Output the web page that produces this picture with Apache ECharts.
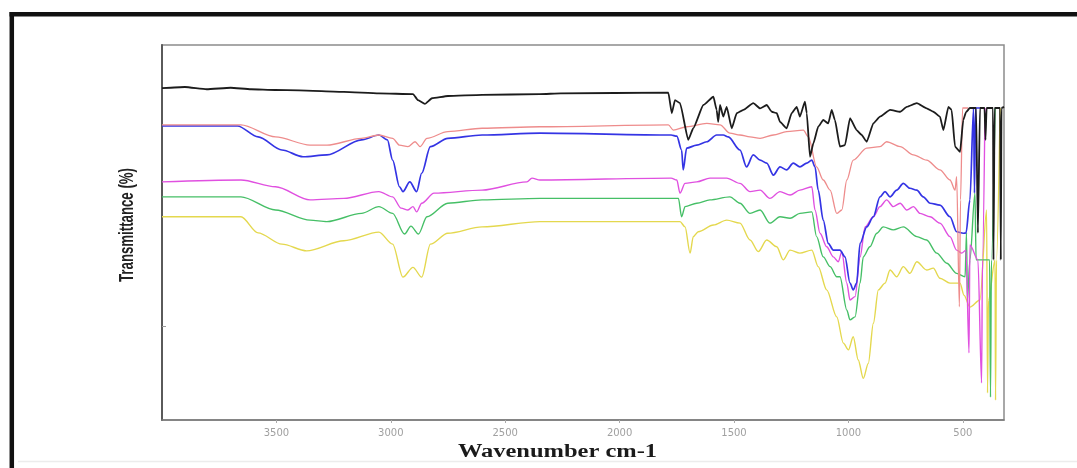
<!DOCTYPE html>
<html>
<head>
<meta charset="utf-8">
<script src="https://cdn.jsdelivr.net/npm/echarts@6/dist/echarts.min.js"></script>
<style>
  html, body { margin: 0; padding: 0; background: #ffffff; }
  #chart { width: 1077px; height: 468px; }
</style>
</head>
<body>
<div id="chart"></div>
<script>
// FTIR spectra: [wavenumber (cm-1), transmittance (%)]
const xTicks = [500, 1000, 1500, 2000, 2500, 3000, 3500];
const yTicks = [25];

const blackSpectrum = [
  [4000, 88.5], [3900, 88.8], [3805, 88.2], [3700, 88.6], [3611, 88.2], [3506, 88.0], [3400, 87.9],
  [3205, 87.5], [3052, 87.1], [2903, 86.9], [2881, 85.3], [2851, 84.3], [2820, 85.8],
  [2750, 86.4], [2601, 86.7], [2348, 86.9], [2257, 87.1], [1787, 87.3],
  [1772, 81.8], [1758, 85.3], [1736, 84.5], [1700, 74.7], [1678, 77.8], [1634, 84.0],
  [1590, 86.2], [1576, 82.7], [1569, 79.5], [1561, 84.0], [1547, 80.9], [1532, 83.5],
  [1510, 77.8], [1488, 81.8], [1459, 82.7], [1416, 84.5], [1386, 83.1], [1357, 84.0],
  [1335, 82.2], [1313, 81.8], [1299, 79.5], [1270, 77.8], [1248, 81.8], [1226, 83.5],
  [1212, 80.9], [1190, 84.9], [1182, 81.8], [1168, 70.2], [1153, 73.8], [1132, 78.2],
  [1110, 80.0], [1088, 79.1], [1073, 82.7], [1059, 80.0], [1037, 72.9], [1015, 73.3],
  [993, 80.5], [964, 77.3], [942, 76.0], [920, 74.2], [891, 79.1], [862, 80.9],
  [818, 82.7], [774, 82.2], [745, 83.5], [701, 84.5], [658, 83.1], [629, 82.2],
  [600, 80.9], [585, 77.3], [563, 83.5], [549, 82.7], [534, 72.9], [512, 71.5],
  [498, 80.0], [486, 82.1], [469, 83.2], [442, 83.2], [434, 49.9], [425, 83.2],
  [405, 83.2], [401, 74.7], [396, 83.2], [368, 83.2], [366, 42.7], [361, 83.2],
  [337, 83.2], [334, 42.7], [331, 83.2], [320, 83.5]
];

const redSpectrum = [
  [4000, 78.7], [3655, 78.7], [3504, 75.5], [3353, 73.3], [3279, 73.3], [3128, 75.1],
  [3052, 76.0], [2992, 75.1], [2962, 73.3], [2925, 72.9], [2894, 74.2], [2872, 72.9],
  [2842, 75.1], [2751, 76.9], [2601, 77.8], [2348, 78.2], [1787, 78.7], [1765, 77.3],
  [1707, 78.2], [1619, 79.1], [1561, 78.7], [1518, 76.5], [1474, 76.0], [1430, 75.5],
  [1386, 75.1], [1328, 76.0], [1270, 76.9], [1197, 77.3], [1175, 75.5], [1139, 67.5],
  [1110, 64.0], [1080, 61.3], [1051, 55.1], [1029, 56.0], [1007, 64.0], [979, 69.3],
  [920, 72.5], [862, 72.9], [833, 74.2], [774, 72.9], [716, 70.7], [658, 69.3],
  [600, 66.7], [556, 64.0], [534, 61.3], [527, 64.9], [515, 30.2], [510, 58.7],
  [501, 83.2], [477, 83.2]
];

const blueSpectrum = [
  [4000, 78.4], [3670, 78.4], [3580, 75.5], [3476, 72.0], [3384, 70.2], [3279, 70.7],
  [3128, 74.7], [3052, 76.0], [3015, 74.7], [2992, 69.3], [2962, 62.2], [2947, 60.9],
  [2917, 63.5], [2887, 60.9], [2865, 65.8], [2827, 72.9], [2751, 75.1], [2601, 76.0],
  [2348, 76.5], [1775, 76.0], [1750, 75.7], [1729, 72.0], [1722, 66.7], [1707, 72.5],
  [1663, 73.3], [1619, 74.2], [1576, 76.0], [1547, 76.0], [1525, 75.5], [1474, 72.0],
  [1445, 67.5], [1416, 70.7], [1386, 69.3], [1357, 68.5], [1328, 65.3], [1299, 67.5],
  [1270, 66.7], [1241, 68.5], [1212, 67.5], [1182, 68.5], [1160, 69.3], [1146, 67.5],
  [1132, 61.3], [1110, 53.3], [1088, 47.1], [1066, 45.3], [1037, 45.3], [1015, 43.5],
  [993, 36.5], [979, 34.7], [964, 36.5], [949, 47.1], [920, 51.5], [891, 54.2],
  [862, 59.5], [840, 60.9], [818, 59.5], [789, 61.3], [760, 63.1], [731, 61.8],
  [701, 61.3], [673, 59.5], [643, 57.8], [600, 57.3], [556, 54.2], [527, 50.2],
  [498, 49.8], [486, 49.9], [469, 58.7], [453, 83.2], [449, 60.5], [444, 83.2],
  [425, 83.2]
];

const magentaSpectrum = [
  [4000, 63.5], [3655, 64.0], [3504, 62.2], [3353, 58.7], [3205, 59.1], [3052, 60.9],
  [2992, 59.5], [2955, 56.5], [2925, 56.0], [2903, 56.9], [2887, 55.5], [2865, 57.8],
  [2811, 60.5], [2601, 61.3], [2405, 63.5], [2383, 64.5], [2348, 64.0], [1775, 64.5],
  [1750, 64.0], [1736, 60.5], [1714, 63.1], [1663, 63.5], [1605, 64.5], [1532, 64.5],
  [1474, 63.1], [1430, 60.9], [1386, 61.3], [1343, 59.1], [1299, 60.9], [1255, 60.0],
  [1212, 61.3], [1160, 62.2], [1146, 56.0], [1124, 49.8], [1095, 46.2], [1066, 43.5],
  [1044, 42.2], [1029, 44.9], [1007, 36.5], [993, 32.0], [971, 32.9], [949, 43.5],
  [927, 51.5], [891, 54.2], [862, 56.9], [833, 58.7], [804, 56.9], [774, 57.8],
  [745, 56.0], [716, 56.9], [687, 55.1], [643, 54.2], [600, 52.5], [556, 48.9],
  [527, 45.3], [505, 44.5], [486, 45.3], [473, 17.9], [469, 46.7], [434, 42.7],
  [418, 9.9], [414, 42.7], [403, 83.2]
];

const greenSpectrum = [
  [4000, 59.5], [3655, 59.5], [3504, 56.0], [3353, 53.3], [3279, 52.9], [3128, 55.1],
  [3052, 56.9], [2992, 55.1], [2940, 49.6], [2912, 51.7], [2879, 49.6], [2842, 54.2],
  [2751, 57.8], [2601, 58.7], [2348, 59.1], [1743, 59.1], [1729, 54.2], [1714, 56.9],
  [1663, 57.8], [1605, 58.7], [1518, 59.5], [1474, 57.8], [1430, 55.1], [1386, 56.0],
  [1343, 52.5], [1299, 54.2], [1255, 53.8], [1212, 55.1], [1160, 55.5], [1139, 48.9],
  [1110, 43.5], [1080, 40.9], [1051, 38.2], [1037, 38.2], [1007, 29.3], [993, 26.7],
  [971, 27.5], [949, 36.5], [935, 43.5], [906, 46.2], [876, 49.8], [848, 51.5],
  [804, 50.7], [760, 51.5], [701, 48.9], [658, 48.0], [614, 44.5], [570, 41.8],
  [527, 39.1], [490, 38.2], [484, 49.9], [480, 32.0], [469, 42.7], [447, 60.5],
  [442, 42.7], [383, 42.7], [379, 6.1], [375, 42.7], [359, 83.2]
];

const yellowSpectrum = [
  [4000, 54.2], [3655, 54.2], [3580, 49.9], [3476, 46.9], [3368, 45.1], [3205, 47.8],
  [3052, 50.1], [2992, 46.9], [2947, 38.1], [2903, 40.7], [2865, 38.1], [2827, 46.9],
  [2751, 49.8], [2601, 51.5], [2348, 52.9], [1736, 52.9], [1714, 51.5], [1692, 44.5],
  [1678, 48.9], [1656, 50.2], [1590, 52.0], [1532, 53.3], [1474, 52.5], [1430, 48.0],
  [1394, 44.9], [1357, 48.0], [1313, 46.2], [1285, 42.7], [1255, 45.3], [1212, 44.5],
  [1160, 45.3], [1132, 40.9], [1095, 34.7], [1051, 27.5], [1022, 20.5], [1000, 18.7],
  [979, 22.2], [957, 16.0], [935, 11.1], [913, 15.1], [891, 25.8], [869, 34.7],
  [840, 36.5], [818, 40.0], [789, 38.2], [760, 40.9], [731, 39.1], [701, 42.2],
  [658, 40.0], [629, 40.5], [600, 37.8], [556, 36.5], [512, 36.5], [495, 33.3],
  [469, 30.1], [425, 32.0], [396, 56.0], [392, 7.2], [388, 32.0], [359, 42.7],
  [357, 5.3], [353, 42.7], [337, 83.2]
];

const spectra = [
  { name: 'yellow', data: yellowSpectrum, color: '#e4d84e', width: 1.4, smooth: 0.3 },
  { name: 'green', data: greenSpectrum, color: '#45bf66', width: 1.4, smooth: 0.3 },
  { name: 'magenta', data: magentaSpectrum, color: '#e050e0', width: 1.4, smooth: 0.3 },
  { name: 'blue', data: blueSpectrum, color: '#3434e4', width: 1.7, smooth: 0.3 },
  { name: 'red', data: redSpectrum, color: '#ee8c8c', width: 1.3, smooth: 0.3 },
  { name: 'black', data: blackSpectrum, color: '#1c1c1c', width: 1.8, smooth: 0.15 }
];

const chart = echarts.init(document.getElementById('chart'), null, { renderer: 'canvas' });

chart.setOption({
  animation: false,
  backgroundColor: '#ffffff',
  grid: {
    left: 162, right: 73, top: 45, bottom: 48,
    show: true, borderColor: '#8c8c8c', borderWidth: 1.5, backgroundColor: 'transparent'
  },
  xAxis: {
    type: 'value',
    inverse: true,
    min: 320,
    max: 4000,
    splitLine: { show: false },
    axisLine: { show: true, onZero: false, lineStyle: { color: '#7a7a7a', width: 1.5 } },
    axisTick: { show: true, customValues: xTicks, length: 3, inside: false, lineStyle: { color: '#aaaaaa' } },
    axisLabel: {
      show: true, customValues: xTicks, margin: 8,
      formatter: v => String(v),
      color: '#a0a0a0', fontSize: 10, fontFamily: 'DejaVu Sans'
    }
  },
  yAxis: {
    type: 'value',
    min: 0,
    max: 100,
    splitLine: { show: false },
    axisLine: { show: true, onZero: false, lineStyle: { color: '#5a5a5a', width: 2 } },
    axisTick: { show: true, customValues: yTicks, inside: true, length: 4, lineStyle: { color: '#999999' } },
    axisLabel: { show: false }
  },
  series: spectra.map(s => ({
    name: s.name,
    type: 'line',
    data: s.data,
    showSymbol: false,
    silent: true,
    clip: true,
    smooth: s.smooth,
    smoothMonotone: 'x',
    lineStyle: { color: s.color, width: s.width, join: 'round' }
  })),
  graphic: [
    // outer frame: heavy left and top rules, faint bottom rule
    { type: 'line', shape: { x1: 11.8, y1: 12, x2: 11.8, y2: 468 }, style: { stroke: '#111111', lineWidth: 4.5 } },
    { type: 'line', shape: { x1: 9.5, y1: 14.3, x2: 1077, y2: 14.3 }, style: { stroke: '#111111', lineWidth: 4.5 } },
    { type: 'line', shape: { x1: 18, y1: 461.5, x2: 1077, y2: 461.5 }, style: { stroke: '#ececec', lineWidth: 1.5 } },
    // axis titles
    {
      type: 'text', x: 127.5, y: 225, rotation: Math.PI / 2, scaleX: 0.63, scaleY: 1,
      style: {
        text: 'Transmittance (%)', fill: '#222222',
        font: 'bold 21px "Liberation Sans", Arial, sans-serif',
        align: 'center', verticalAlign: 'middle'
      }
    },
    {
      type: 'text', x: 557.5, y: 452, scaleX: 1.36, scaleY: 1,
      style: {
        text: 'Wavenumber cm-1', fill: '#1a1a1a',
        font: 'bold 18px "Liberation Serif", "Times New Roman", serif',
        align: 'center', verticalAlign: 'middle'
      }
    }
  ]
});
</script>
</body>
</html>
